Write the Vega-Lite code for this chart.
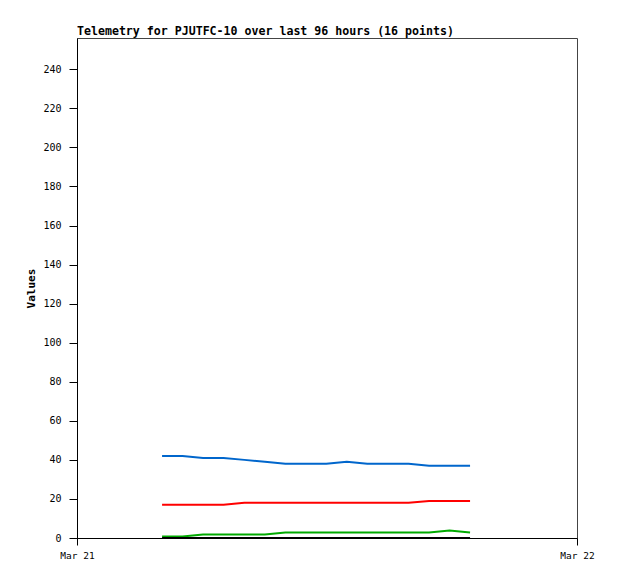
{
  "$schema": "https://vega.github.io/schema/vega-lite/v6.json",
  "width": 500,
  "height": 500,
  "autosize": "none",
  "padding": {"left": 77, "top": 38, "right": 41, "bottom": 41},
  "background": "white",
  "title": {
    "text": "Telemetry for PJUTFC-10 over last 96 hours (16 points)",
    "anchor": "start",
    "frame": "group",
    "font": "DejaVu Sans Mono",
    "fontSize": 11.6,
    "fontWeight": "bold",
    "color": "black",
    "offset": 0
  },
  "config": {
    "view": {"stroke": "#444444", "strokeWidth": 1},
    "axis": {
      "labelFont": "DejaVu Sans Mono",
      "titleFont": "DejaVu Sans Mono",
      "labelColor": "black",
      "titleColor": "black",
      "domainColor": "black",
      "tickColor": "black",
      "grid": false
    }
  },
  "data": {
    "values": [
      {"t": "2024-03-21T04:05", "s": "A", "v": 42},
      {"t": "2024-03-21T05:04", "s": "A", "v": 42},
      {"t": "2024-03-21T06:03", "s": "A", "v": 41},
      {"t": "2024-03-21T07:02", "s": "A", "v": 41},
      {"t": "2024-03-21T08:02", "s": "A", "v": 40},
      {"t": "2024-03-21T09:01", "s": "A", "v": 39},
      {"t": "2024-03-21T10:00", "s": "A", "v": 38},
      {"t": "2024-03-21T10:59", "s": "A", "v": 38},
      {"t": "2024-03-21T11:58", "s": "A", "v": 38},
      {"t": "2024-03-21T12:57", "s": "A", "v": 39},
      {"t": "2024-03-21T13:56", "s": "A", "v": 38},
      {"t": "2024-03-21T14:55", "s": "A", "v": 38},
      {"t": "2024-03-21T15:55", "s": "A", "v": 38},
      {"t": "2024-03-21T16:54", "s": "A", "v": 37},
      {"t": "2024-03-21T17:53", "s": "A", "v": 37},
      {"t": "2024-03-21T18:52", "s": "A", "v": 37},
      {"t": "2024-03-21T04:05", "s": "B", "v": 17},
      {"t": "2024-03-21T05:04", "s": "B", "v": 17},
      {"t": "2024-03-21T06:03", "s": "B", "v": 17},
      {"t": "2024-03-21T07:02", "s": "B", "v": 17},
      {"t": "2024-03-21T08:02", "s": "B", "v": 18},
      {"t": "2024-03-21T09:01", "s": "B", "v": 18},
      {"t": "2024-03-21T10:00", "s": "B", "v": 18},
      {"t": "2024-03-21T10:59", "s": "B", "v": 18},
      {"t": "2024-03-21T11:58", "s": "B", "v": 18},
      {"t": "2024-03-21T12:57", "s": "B", "v": 18},
      {"t": "2024-03-21T13:56", "s": "B", "v": 18},
      {"t": "2024-03-21T14:55", "s": "B", "v": 18},
      {"t": "2024-03-21T15:55", "s": "B", "v": 18},
      {"t": "2024-03-21T16:54", "s": "B", "v": 19},
      {"t": "2024-03-21T17:53", "s": "B", "v": 19},
      {"t": "2024-03-21T18:52", "s": "B", "v": 19},
      {"t": "2024-03-21T04:05", "s": "C", "v": 0.8},
      {"t": "2024-03-21T05:04", "s": "C", "v": 0.8},
      {"t": "2024-03-21T06:03", "s": "C", "v": 1.8},
      {"t": "2024-03-21T07:02", "s": "C", "v": 1.8},
      {"t": "2024-03-21T08:02", "s": "C", "v": 1.8},
      {"t": "2024-03-21T09:01", "s": "C", "v": 1.8},
      {"t": "2024-03-21T10:00", "s": "C", "v": 2.8},
      {"t": "2024-03-21T10:59", "s": "C", "v": 2.8},
      {"t": "2024-03-21T11:58", "s": "C", "v": 2.8},
      {"t": "2024-03-21T12:57", "s": "C", "v": 2.8},
      {"t": "2024-03-21T13:56", "s": "C", "v": 2.8},
      {"t": "2024-03-21T14:55", "s": "C", "v": 2.8},
      {"t": "2024-03-21T15:55", "s": "C", "v": 2.8},
      {"t": "2024-03-21T16:54", "s": "C", "v": 2.8},
      {"t": "2024-03-21T17:53", "s": "C", "v": 3.8},
      {"t": "2024-03-21T18:52", "s": "C", "v": 2.8},
      {"t": "2024-03-21T04:05", "s": "D", "v": 0},
      {"t": "2024-03-21T05:04", "s": "D", "v": 0},
      {"t": "2024-03-21T06:03", "s": "D", "v": 0},
      {"t": "2024-03-21T07:02", "s": "D", "v": 0},
      {"t": "2024-03-21T08:02", "s": "D", "v": 0},
      {"t": "2024-03-21T09:01", "s": "D", "v": 0},
      {"t": "2024-03-21T10:00", "s": "D", "v": 0},
      {"t": "2024-03-21T10:59", "s": "D", "v": 0},
      {"t": "2024-03-21T11:58", "s": "D", "v": 0},
      {"t": "2024-03-21T12:57", "s": "D", "v": 0},
      {"t": "2024-03-21T13:56", "s": "D", "v": 0},
      {"t": "2024-03-21T14:55", "s": "D", "v": 0},
      {"t": "2024-03-21T15:55", "s": "D", "v": 0},
      {"t": "2024-03-21T16:54", "s": "D", "v": 0},
      {"t": "2024-03-21T17:53", "s": "D", "v": 0},
      {"t": "2024-03-21T18:52", "s": "D", "v": 0}
    ]
  },
  "mark": {"type": "line", "strokeWidth": 2, "clip": false},
  "encoding": {
    "x": {
      "field": "t",
      "type": "temporal",
      "scale": {
        "domain": [
          {"year": 2024, "month": 3, "date": 21},
          {"year": 2024, "month": 3, "date": 22}
        ]
      },
      "axis": {
        "title": null,
        "values": [
          {"year": 2024, "month": 3, "date": 21},
          {"year": 2024, "month": 3, "date": 22}
        ],
        "format": "%b %d",
        "labelFontSize": 9.5,
        "tickSize": 7,
        "labelPadding": 5,
        "labelFlush": false,
        "labelOverlap": false
      }
    },
    "y": {
      "field": "v",
      "type": "quantitative",
      "scale": {"domain": [0, 256], "nice": false, "zero": true},
      "axis": {
        "title": "Values",
        "titleFontSize": 11,
        "titleFontWeight": "bold",
        "titlePadding": 6,
        "values": [0, 20, 40, 60, 80, 100, 120, 140, 160, 180, 200, 220, 240],
        "labelFontSize": 10,
        "tickSize": 8,
        "labelPadding": 8
      }
    },
    "color": {
      "field": "s",
      "type": "nominal",
      "scale": {
        "domain": ["A", "B", "C", "D"],
        "range": ["#0066cc", "#ff0000", "#00aa00", "#000000"]
      },
      "legend": null
    }
  }
}
